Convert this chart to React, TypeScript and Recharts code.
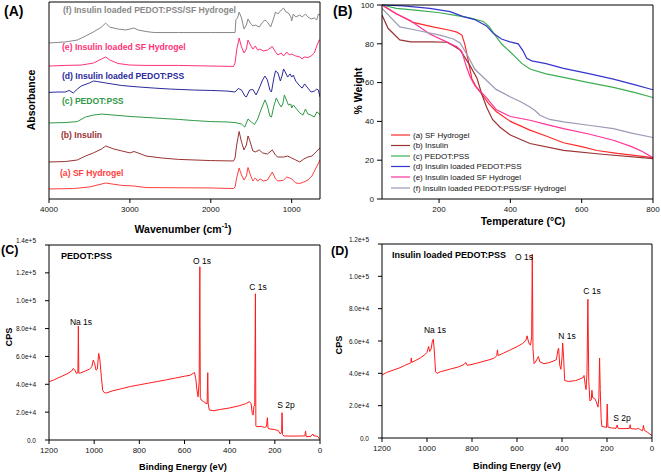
import { LineChart, Line, XAxis, YAxis } from "recharts"

const FONT = "'Liberation Sans', Arial, Helvetica, sans-serif"

type Pt = [number, number]
const toRows = (pts: Pt[]) => pts.map(([x, y]) => ({ x, y }))

// ---- (A) FTIR spectra, absorbance in arbitrary units (offset stack) ----
const ftirTicks = [4000, 3000, 2000, 1000]
const ftirMinor = [3800, 3600, 3400, 3200, 2800, 2600, 2400, 2200, 1800, 1600, 1400, 1200, 800]

const ftirSF: Pt[] = [
  [4000, 5.1], [3700, 5.3], [3500, 6.1], [3300, 8.1], [3100, 6.9], [2950, 6.6], [2800, 5.8], [2000, 5.6],
  [1720, 5.3], [1700, 6.1], [1680, 10.7], [1650, 15.7], [1620, 12.2], [1590, 9.6], [1560, 11.7], [1540, 16.0],
  [1510, 12.2], [1480, 9.1], [1450, 10.7], [1420, 9.1], [1390, 10.2], [1350, 9.1], [1300, 9.6], [1240, 13.7],
  [1200, 10.2], [1170, 9.1], [1100, 9.6], [1060, 11.2], [1030, 10.7], [1000, 10.2], [950, 8.1], [900, 7.9],
  [850, 8.6], [800, 9.6], [750, 11.7], [700, 15.7], [650, 19.8],
]
const ftirInsulin: Pt[] = [
  [4000, 18.8], [3800, 19.0], [3650, 19.8], [3550, 21.8], [3450, 23.4], [3350, 25.4], [3300, 26.9], [3200, 25.4],
  [3100, 24.4], [3000, 23.4], [2950, 24.1], [2900, 23.4], [2800, 21.8], [2600, 20.8], [2400, 20.1], [2000, 19.5],
  [1720, 19.3], [1700, 20.8], [1680, 27.4], [1650, 34.3], [1620, 28.9], [1590, 24.9], [1560, 27.4], [1540, 32.0],
  [1520, 29.9], [1480, 24.4], [1450, 23.9], [1400, 24.9], [1360, 23.4], [1300, 22.8], [1240, 24.9], [1200, 22.3],
  [1170, 21.3], [1100, 21.3], [1050, 21.8], [1000, 20.8], [950, 19.8], [900, 18.8], [850, 20.3], [800, 21.3],
  [750, 21.8], [700, 23.9], [650, 25.9],
]
const ftirPedot: Pt[] = [
  [4000, 38.6], [3800, 38.8], [3650, 39.3], [3550, 41.6], [3450, 42.6], [3350, 43.1], [3200, 42.6], [3000, 41.9],
  [2800, 41.4], [2600, 40.9], [2400, 40.4], [2200, 39.8], [2000, 39.3], [1800, 39.1], [1700, 38.8], [1620, 38.1],
  [1580, 36.5], [1540, 40.6], [1500, 39.1], [1460, 37.8], [1420, 40.6], [1380, 45.2], [1330, 50.3], [1300, 47.2],
  [1270, 42.1], [1250, 41.6], [1220, 47.2], [1190, 51.3], [1160, 48.7], [1130, 46.7], [1110, 48.2], [1090, 52.8],
  [1060, 49.7], [1040, 47.7], [1010, 48.2], [1000, 46.2], [980, 47.7], [950, 46.2], [900, 43.7], [860, 42.6],
  [830, 45.7], [800, 43.1], [760, 42.6], [720, 41.6], [690, 44.2], [670, 43.7], [650, 42.6],
]
const ftirInsPedot: Pt[] = [
  [4000, 54.1], [3900, 54.3], [3800, 54.3], [3750, 55.1], [3700, 53.8], [3650, 55.8], [3600, 57.4], [3500, 58.9],
  [3450, 59.9], [3400, 59.6], [3300, 58.9], [3100, 57.6], [2900, 56.9], [2700, 56.3], [2500, 55.8], [2200, 55.3],
  [2000, 55.1], [1800, 54.8], [1700, 54.3], [1660, 56.1], [1620, 55.3], [1580, 52.3], [1560, 51.8], [1520, 55.3],
  [1480, 55.6], [1440, 52.8], [1400, 56.3], [1360, 60.4], [1330, 62.4], [1300, 60.4], [1270, 55.3], [1250, 54.3],
  [1220, 61.4], [1200, 65.0], [1170, 64.0], [1140, 59.9], [1120, 62.4], [1100, 66.0], [1080, 64.5], [1050, 61.9],
  [1020, 63.5], [1000, 61.9], [980, 62.9], [950, 59.9], [900, 57.4], [870, 56.3], [840, 58.4], [800, 56.3],
  [760, 54.3], [720, 54.8], [690, 55.8], [670, 55.3], [650, 51.8],
]
const ftirInsSF: Pt[] = [
  [4000, 67.5], [3800, 67.8], [3600, 68.0], [3450, 69.0], [3350, 71.1], [3300, 72.1], [3250, 70.6], [3150, 68.8],
  [3000, 68.0], [2800, 67.8], [2400, 67.8], [2000, 67.5], [1720, 67.3], [1700, 69.0], [1680, 75.6], [1650, 81.7],
  [1620, 77.2], [1590, 74.1], [1560, 76.1], [1540, 80.7], [1510, 78.2], [1480, 76.1], [1450, 77.7], [1420, 75.6],
  [1390, 76.1], [1350, 75.1], [1300, 75.6], [1240, 77.4], [1200, 74.6], [1170, 73.1], [1130, 74.1], [1100, 72.6],
  [1060, 74.6], [1030, 73.1], [1000, 73.6], [950, 72.6], [900, 72.1], [870, 71.1], [850, 72.1], [800, 71.8],
  [760, 72.6], [720, 74.1], [690, 77.7], [660, 80.7], [650, 80.7],
]
const ftirAll: Pt[] = [
  [4000, 79.2], [3800, 79.7], [3650, 80.7], [3550, 82.7], [3450, 84.8], [3350, 87.3], [3300, 89.3], [3250, 87.3],
  [3150, 86.3], [3050, 85.8], [2950, 86.8], [2900, 85.8], [2800, 85.0], [2700, 84.5], [2400, 84.5], [2000, 84.5],
  [1700, 84.5], [1690, 90.9], [1670, 91.9], [1650, 94.9], [1620, 91.9], [1590, 86.3], [1560, 88.3], [1540, 91.4],
  [1510, 89.3], [1480, 87.8], [1450, 88.3], [1400, 87.3], [1360, 89.8], [1330, 90.9], [1300, 89.8], [1260, 87.3],
  [1230, 90.9], [1200, 94.9], [1170, 93.9], [1130, 95.9], [1100, 96.9], [1070, 94.9], [1040, 94.4], [1010, 92.4],
  [1000, 90.4], [980, 93.9], [950, 92.4], [900, 93.4], [870, 92.4], [830, 93.9], [800, 92.4], [760, 91.4],
  [720, 91.9], [690, 90.9], [670, 93.9], [650, 93.4],
]

const ftirSeries = [
  { name: "(a) SF Hydrogel", color: "#ff4040", pts: ftirSF },
  { name: "(b) Insulin", color: "#993333", pts: ftirInsulin },
  { name: "(c) PEDOT:PSS", color: "#2f9a45", pts: ftirPedot },
  { name: "(d) Insulin loaded PEDOT:PSS", color: "#2b2b9c", pts: ftirInsPedot },
  { name: "(e) Insulin loaded SF Hydrogel", color: "#ff3377", pts: ftirInsSF },
  { name: "(f) Insulin loaded PEDOT:PSS/SF Hydrogel", color: "#888888", pts: ftirAll },
]

// ---- (B) TGA, % weight vs temperature ----
const tgaTicksX = [200, 400, 600, 800]
const tgaTicksY = [0, 20, 40, 60, 80, 100]

const tgaSF: Pt[] = [
  [40, 100], [80, 95.5], [127, 91], [183, 88.7], [230, 87], [250, 86], [264, 84.5], [272, 80], [280, 73],
  [292, 62], [305, 57.5], [320, 54], [340, 49], [361, 45], [400, 40], [455, 35.5], [500, 32.5], [549, 29],
  [600, 27], [643, 25], [700, 23.5], [800, 21.3],
]
const tgaInsulin: Pt[] = [
  [40, 94.8], [57, 88], [90, 82], [120, 81], [180, 81], [222, 80.8], [240, 79], [259, 76.8], [286, 69],
  [306, 62.4], [320, 54], [334, 47], [350, 41], [371, 37], [400, 33], [455, 28.6], [549, 25.1], [650, 23.2],
  [800, 20.8],
]
const tgaPedot: Pt[] = [
  [40, 100], [80, 98.3], [140, 97.2], [202, 96], [250, 94.5], [286, 93.4], [324, 91.5], [340, 89], [355, 85],
  [375, 80], [399, 75.9], [415, 73], [432, 69.9], [455, 67], [500, 64.5], [549, 62.7], [620, 60], [689, 57.5],
  [750, 54.8], [800, 52.3],
]
const tgaInsPedot: Pt[] = [
  [40, 100], [100, 99.5], [174, 98.3], [231, 96.6], [268, 94], [300, 92.5], [333, 89.2], [352, 85.4],
  [375, 82.5], [399, 81], [422, 80], [435, 76.5], [446, 72.5], [460, 71.2], [500, 69.8], [549, 67.3],
  [620, 64.6], [689, 61.8], [750, 58.8], [800, 56.3],
]
const tgaInsSF: Pt[] = [
  [40, 100], [80, 95.5], [119, 92], [174, 85], [221, 81], [250, 78.5], [264, 76], [277, 68], [287, 63],
  [300, 58.5], [334, 52], [361, 46], [400, 42.5], [455, 40.6], [500, 38.5], [549, 36.3], [620, 33.5],
  [689, 30.3], [740, 27], [770, 24.5], [800, 21.3],
]
const tgaAll: Pt[] = [
  [40, 98.3], [90, 88.7], [137, 87], [202, 84.5], [240, 82.5], [259, 80.4], [280, 74], [300, 67],
  [323, 62.9], [360, 56.5], [399, 52.7], [430, 50], [455, 47.4], [470, 45.5], [483, 43.2], [510, 41],
  [549, 39.8], [620, 38], [689, 36.3], [740, 34], [800, 31.7],
]

const tgaSeries = [
  { name: "(a) SF Hydrogel", color: "#ff2a2a", pts: tgaSF },
  { name: "(b) Insulin", color: "#993333", pts: tgaInsulin },
  { name: "(c) PEDOT:PSS", color: "#3cae52", pts: tgaPedot },
  { name: "(d) Insulin loaded PEDOT:PSS", color: "#3535cc", pts: tgaInsPedot },
  { name: "(e) Insulin loaded SF Hydrogel", color: "#ff3399", pts: tgaInsSF },
  { name: "(f) Insulin loaded PEDOT:PSS/SF Hydrogel", color: "#9a9ab4", pts: tgaAll },
]

// ---- (C), (D) XPS survey, CPS vs binding energy ----
const xpsTicksX = [1200, 1000, 800, 600, 400, 200, 0]
const xpsMinorX = [1150, 1100, 1050, 950, 900, 850, 750, 700, 650, 550, 500, 450, 350, 300, 250, 150, 100, 50]
const xpsTicksC = [0, 20000, 40000, 60000, 80000, 100000, 120000, 140000]
const xpsTicksD = [0, 20000, 40000, 60000, 80000, 100000, 120000]

const xpsPedot: Pt[] = [
  [1200, 41900], [1180, 43000], [1160, 44500], [1140, 46000], [1120, 47500], [1100, 49500], [1092, 51400],
  [1085, 50000], [1078, 47800], [1072, 48500], [1070, 81800], [1068, 48000], [1060, 48200], [1040, 49500],
  [1020, 51000], [1010, 52600], [1004, 57400], [998, 55000], [992, 50200], [986, 51000], [980, 62200],
  [975, 58000], [968, 45000], [962, 35500], [955, 34000], [945, 33800], [920, 35200], [880, 36800],
  [840, 38400], [800, 39600], [760, 40800], [720, 42000], [680, 43200], [640, 44500], [600, 45800],
  [575, 46500], [562, 47800], [556, 48500], [550, 44000], [545, 36000], [540, 31000], [535, 42000],
  [532, 124400], [530, 30500], [526, 28700], [515, 27500], [505, 26300], [500, 26000], [497, 48300],
  [495, 26000], [490, 21500], [470, 21000], [440, 22000], [400, 23000], [360, 24500], [330, 26000],
  [312, 27500], [305, 26000], [300, 19000], [296, 17900], [293, 23900], [289, 25000], [286, 105000],
  [284, 10000], [280, 9600], [260, 9800], [245, 9000], [237, 9600], [233, 16000], [230, 8500], [222, 7900],
  [200, 7500], [185, 6700], [175, 4300], [170, 6000], [168, 19600], [166, 4000], [160, 2900], [120, 2800],
  [80, 2900], [67, 2900], [64, 6500], [61, 2400], [40, 2600], [32, 4300], [28, 3000], [15, 2800], [9, 2400],
  [4, 1200], [0, 500],
]
const xpsInsPedot: Pt[] = [
  [1200, 39000], [1180, 40500], [1150, 42000], [1120, 43500], [1100, 44800], [1080, 46000], [1072, 46500],
  [1070, 49500], [1068, 46800], [1050, 48000], [1030, 49500], [1010, 51500], [1000, 53000], [993, 56600],
  [988, 53500], [982, 55000], [976, 60000], [972, 61100], [968, 55000], [962, 41000], [955, 40000],
  [940, 41000], [900, 42500], [860, 44000], [835, 45500], [828, 46800], [822, 45000], [800, 45500],
  [760, 47000], [720, 48500], [700, 49500], [690, 51000], [687, 54500], [684, 51000], [660, 52500],
  [630, 54500], [600, 56500], [575, 58500], [560, 60500], [555, 63200], [550, 60000], [545, 58000],
  [540, 57500], [535, 62500], [532, 113800], [529, 55000], [524, 46000], [518, 47000], [510, 49000],
  [505, 50400], [498, 47000], [480, 46000], [460, 46500], [440, 47500], [425, 48500], [418, 54500],
  [415, 55600], [410, 45000], [405, 42500], [400, 50000], [397, 58700], [393, 50000], [388, 35500],
  [370, 35000], [340, 35500], [320, 36500], [305, 37500], [302, 38700], [297, 33000], [293, 30000],
  [289, 40000], [285, 85800], [281, 35000], [276, 23000], [270, 23500], [267, 29500], [264, 25000],
  [255, 24500], [248, 22600], [240, 19100], [236, 25000], [233, 49500], [230, 30000], [226, 12000],
  [223, 7200], [210, 6800], [202, 6500], [199, 21000], [196, 6800], [180, 6200], [160, 6000], [155, 8000],
  [150, 5800], [120, 5800], [100, 6000], [97, 8200], [94, 5800], [70, 5500], [60, 6000], [50, 5000],
  [42, 4500], [38, 7800], [34, 4800], [20, 3500], [10, 2500], [0, 1500],
]

const tickStyle = { fontSize: 8, fill: "#111", fontFamily: FONT }
const sciFmt = (v: number) => (v === 0 ? "0.0" : v.toExponential(1))
const XPS_RED = "#ff1a1a"

// small sci-notation y ticks; the top one sits a little higher, as in the source figure
const SciTick = (props: any) => {
  const { x, y, payload, yMax } = props
  const top = payload.value === yMax
  return (
    <text x={x} y={top ? y - 5 : y} fontSize={6.5} fill="#111" fontFamily={FONT} textAnchor="end" dominantBaseline="central">
      {sciFmt(payload.value)}
    </text>
  )
}

const FtirPanel = () => (
  <LineChart width={330} height={232} margin={{ top: 2, right: 10, bottom: 0, left: 0 }}>
    <XAxis dataKey="x" type="number" domain={[650, 4000]} reversed allowDataOverflow ticks={ftirTicks} interval={0}
      height={33} tickSize={4} tickMargin={3} tick={tickStyle} stroke="#000" />
    <XAxis xAxisId="minor" dataKey="x" type="number" domain={[650, 4000]} reversed ticks={ftirMinor} interval={0}
      mirror tick={false} axisLine={false} tickSize={3} stroke="#000" />
    <XAxis xAxisId="top" orientation="top" type="number" domain={[650, 4000]} mirror tick={false} tickLine={false} stroke="#000" />
    <YAxis type="number" domain={[0, 100]} width={49} tick={false} tickLine={false} stroke="#000" />
    <YAxis yAxisId="right" orientation="right" type="number" domain={[0, 100]} mirror tick={false} tickLine={false} stroke="#000" />
    {ftirSeries.map((s) => (
      <Line key={s.name} data={toRows(s.pts)} dataKey="y" stroke={s.color} strokeWidth={1} dot={false} isAnimationActive={false} />
    ))}
  </LineChart>
)

const TgaPanel = () => (
  <LineChart width={331} height={232} margin={{ top: 5, right: 8, bottom: 0, left: 0 }}>
    <XAxis dataKey="x" type="number" domain={[40, 800]} allowDataOverflow ticks={tgaTicksX} interval={0}
      height={33} tickSize={4} tickMargin={3} tick={tickStyle} stroke="#000" />
    <XAxis xAxisId="minor" dataKey="x" type="number" domain={[40, 800]} ticks={[80, 120, 160, 240, 280, 320, 360, 440, 480, 520, 560, 640, 680, 720, 760]}
      interval={0} mirror tick={false} axisLine={false} tickSize={3} stroke="#000" />
    <XAxis xAxisId="top" orientation="top" type="number" domain={[40, 800]} mirror tick={false} tickLine={false} stroke="#000" />
    <YAxis type="number" domain={[0, 100]} ticks={tgaTicksY} interval={0} width={52} tickSize={5} tickMargin={3} tick={tickStyle} stroke="#000" />
    <YAxis yAxisId="minor" type="number" domain={[0, 100]} ticks={[5, 10, 15, 25, 30, 35, 45, 50, 55, 65, 70, 75, 85, 90, 95]}
      interval={0} mirror tick={false} axisLine={false} tickSize={3} stroke="#000" />
    <YAxis yAxisId="right" orientation="right" type="number" domain={[0, 100]} mirror tick={false} tickLine={false} stroke="#000" />
    {tgaSeries.map((s) => (
      <Line key={s.name} data={toRows(s.pts)} dataKey="y" stroke={s.color} strokeWidth={1.2} dot={false} isAnimationActive={false} />
    ))}
  </LineChart>
)

const XpsPanel = ({ pts, yMax, yTicks, width, mTop, mRight, yW, xH }:
  { pts: Pt[]; yMax: number; yTicks: number[]; width: number; mTop: number; mRight: number; yW: number; xH: number }) => {
  const minorY: number[] = []
  for (let v = 10000; v < yMax; v += 20000) minorY.push(v)
  return (
    <LineChart width={width} height={244} margin={{ top: mTop, right: mRight, bottom: 0, left: 0 }}>
      <XAxis dataKey="x" type="number" domain={[0, 1200]} reversed allowDataOverflow ticks={xpsTicksX} interval={0}
        height={xH} tickSize={4} tickMargin={3} tick={tickStyle} stroke="#000" />
      <XAxis xAxisId="minor" dataKey="x" type="number" domain={[0, 1200]} reversed ticks={xpsMinorX} interval={0}
        mirror tick={false} axisLine={false} tickSize={3} stroke="#000" />
      <XAxis xAxisId="top" orientation="top" type="number" domain={[0, 1200]} mirror tick={false} tickLine={false} stroke="#000" />
      <YAxis type="number" domain={[0, yMax]} allowDataOverflow ticks={yTicks} interval={0} width={yW} tickSize={4} tickMargin={9}
        tick={<SciTick yMax={yMax} />} stroke="#000" />
      <YAxis yAxisId="minor" type="number" domain={[0, yMax]} ticks={minorY} interval={0} mirror tick={false} axisLine={false}
        tickSize={3} stroke="#000" />
      <YAxis yAxisId="right" orientation="right" type="number" domain={[0, yMax]} mirror tick={false} tickLine={false} stroke="#000" />
      <Line data={toRows(pts)} dataKey="y" stroke={XPS_RED} strokeWidth={1} dot={false} isAnimationActive={false} />
    </LineChart>
  )
}

// label placements (pixel positions, kept apart from the data)
const ftirLabelY = [173, 135, 101, 76, 47, 10]
const ftirLabelX = [60, 61, 62, 62, 62, 63]
const legendY = [135, 145.5, 156, 166.5, 177, 188]

const Overlay = () => (
  <svg width={661} height={474} fontFamily={FONT}
    style={{ position: "absolute", left: 0, top: 0, pointerEvents: "none" }}>
    {/* panel letters */}
    <text x={4} y={11} fontSize={14} fontWeight="bold" dominantBaseline="central">(A)</text>
    <text x={333} y={11} fontSize={14} fontWeight="bold" dominantBaseline="central">(B)</text>
    <text x={1} y={250} fontSize={12.5} fontWeight="bold" dominantBaseline="central">(C)</text>
    <text x={331} y={251} fontSize={12.5} fontWeight="bold" dominantBaseline="central">(D)</text>

    {/* (A) spectrum labels and axis titles */}
    {ftirSeries.map((s, i) => (
      <text key={s.name} x={ftirLabelX[i]} y={ftirLabelY[i]} fontSize={8.6} fontWeight="bold" fill={s.color} dominantBaseline="central">
        {s.name}
      </text>
    ))}
    <text transform="translate(31,100) rotate(-90)" fontSize={10.5} fontWeight="bold" textAnchor="middle" dominantBaseline="central">
      Absorbance
    </text>
    <text x={183} y={229} fontSize={10.5} fontWeight="bold" textAnchor="middle" dominantBaseline="central">
      Wavenumber (cm<tspan fontSize={7} dy={-4}>-1</tspan><tspan dy={4}>)</tspan>
    </text>

    {/* (B) legend and axis titles */}
    {tgaSeries.map((s, i) => (
      <g key={s.name}>
        <line x1={391} x2={410} y1={legendY[i]} y2={legendY[i]} stroke={s.color} strokeWidth={1.2} />
        <text x={413} y={legendY[i]} fontSize={8} dominantBaseline="central" fill="#111">{s.name}</text>
      </g>
    ))}
    <text transform="translate(358,91) rotate(-90)" fontSize={10.5} fontWeight="bold" textAnchor="middle" dominantBaseline="central">
      % Weight
    </text>
    <text x={523} y={221} fontSize={10.5} fontWeight="bold" textAnchor="middle" dominantBaseline="central">
      Temperature (°C)
    </text>

    {/* (C) */}
    <text x={61} y={256} fontSize={9} fontWeight="bold" dominantBaseline="central">PEDOT:PSS</text>
    <text x={202} y={261} fontSize={8.5} textAnchor="middle" dominantBaseline="central">O 1s</text>
    <text x={258} y={287} fontSize={8.5} textAnchor="middle" dominantBaseline="central">C 1s</text>
    <text x={81} y={322} fontSize={8.5} textAnchor="middle" dominantBaseline="central">Na 1s</text>
    <text x={286} y={405} fontSize={8.5} textAnchor="middle" dominantBaseline="central">S 2p</text>
    <text transform="translate(9,337) rotate(-90)" fontSize={9.2} fontWeight="bold" textAnchor="middle" dominantBaseline="central">CPS</text>
    <text x={183} y={467} fontSize={9.2} fontWeight="bold" textAnchor="middle" dominantBaseline="central">Binding Energy (eV)</text>

    {/* (D) */}
    <text x={392} y={255} fontSize={9} fontWeight="bold" dominantBaseline="central">Insulin loaded PEDOT:PSS</text>
    <text x={524} y={257} fontSize={8.5} textAnchor="middle" dominantBaseline="central">O 1s</text>
    <text x={592} y={291} fontSize={8.5} textAnchor="middle" dominantBaseline="central">C 1s</text>
    <text x={567} y={336} fontSize={8.5} textAnchor="middle" dominantBaseline="central">N 1s</text>
    <text x={435} y={330} fontSize={8.5} textAnchor="middle" dominantBaseline="central">Na 1s</text>
    <text x={622} y={418} fontSize={8.5} textAnchor="middle" dominantBaseline="central">S 2p</text>
    <text transform="translate(339,345) rotate(-90)" fontSize={9.2} fontWeight="bold" textAnchor="middle" dominantBaseline="central">CPS</text>
    <text x={517} y={466} fontSize={9.2} fontWeight="bold" textAnchor="middle" dominantBaseline="central">Binding Energy (eV)</text>
  </svg>
)

export default function App() {
  return (
    <div style={{ position: "absolute", left: 0, top: 0, width: 661, height: 474, background: "#fff", fontFamily: FONT }}>
      <div style={{ position: "absolute", left: 0, top: 0 }}><FtirPanel /></div>
      <div style={{ position: "absolute", left: 330, top: 0 }}><TgaPanel /></div>
      <div style={{ position: "absolute", left: 0, top: 230 }}>
        <XpsPanel pts={xpsPedot} yMax={140000} yTicks={xpsTicksC} width={330} mTop={15} mRight={10} yW={49} xH={34} />
      </div>
      <div style={{ position: "absolute", left: 330, top: 230 }}>
        <XpsPanel pts={xpsInsPedot} yMax={120000} yTicks={xpsTicksD} width={331} mTop={14} mRight={9} yW={52} xH={36} />
      </div>
      <Overlay />
    </div>
  )
}
